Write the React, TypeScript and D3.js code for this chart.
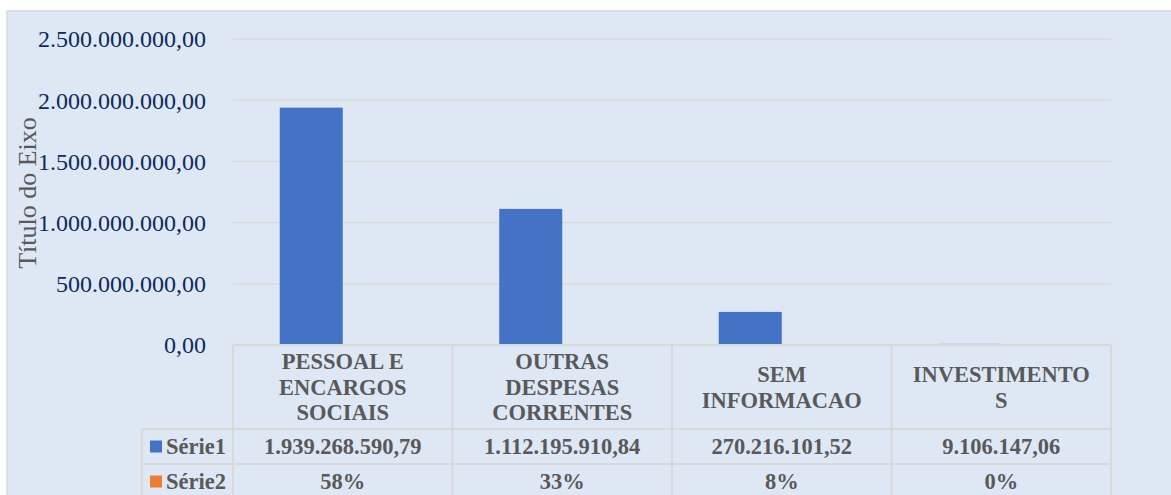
import React from "react";
import * as d3 from "d3";

const categories: string[][] = [
  ["PESSOAL E", "ENCARGOS", "SOCIAIS"],
  ["OUTRAS", "DESPESAS", "CORRENTES"],
  ["SEM", "INFORMACAO"],
  ["INVESTIMENTO", "S"],
];
const serie1: number[] = [1939268590.79, 1112195910.84, 270216101.52, 9106147.06];
const serie2: number[] = [0.58, 0.33, 0.08, 0.0];
const serie1Labels: string[] = ["1.939.268.590,79", "1.112.195.910,84", "270.216.101,52", "9.106.147,06"];
const serie2Labels: string[] = ["58%", "33%", "8%", "0%"];
const seriesNames: string[] = ["Série1", "Série2"];
const yTicks: number[] = [0, 500000000, 1000000000, 1500000000, 2000000000, 2500000000];
const axisTitle = "Título do Eixo";

const W = 1171;
const H = 495;
const plotLeft = 233;
const plotRight = 1111;
const plotTop = 39;
const plotBottom = 345;
const headerBottom = 429;
const row1Bottom = 464;
const row2Bottom = 499;
const legendLeft = 142;
const BLUE = "#4472c4";
const ORANGE = "#ed7d31";
const BG = "#dee8f4";
const GRID = "#d9d9d9";
const TEXT_GRAY = "#595959";
const NAVY = "#0d2a5c";
const FONT = "Liberation Serif, Times New Roman, DejaVu Serif, serif";

function fmtTick(v: number): string {
  const s = d3.format(",.2f")(v);
  return s.replace(/,/g, "#").replace(/\./g, ",").replace(/#/g, ".");
}

export default function App() {
  const y = d3.scaleLinear().domain([0, 2500000000]).range([plotBottom, plotTop]);
  const x0 = d3
    .scaleBand<number>()
    .domain(categories.map((_, i) => i))
    .range([plotLeft, plotRight])
    .paddingInner(0)
    .paddingOuter(0);
  const x1 = d3
    .scaleBand<number>()
    .domain([0, 1])
    .range([0, x0.bandwidth()])
    .paddingInner(0)
    .paddingOuter(0.742);
  const colEdges = categories.map((_, i) => x0(i)!).concat([plotRight]);
  const txt = { fontFamily: FONT } as React.CSSProperties;

  return (
    <svg
      width={W}
      height={H}
      style={{ position: "absolute", left: 0, top: 0, display: "block", fontFamily: FONT }}
    >
      <rect x={0} y={0} width={W} height={H} fill="#ffffff" />
      <rect x={7} y={11} width={W} height={H} fill={BG} stroke={GRID} strokeWidth={1.5} />
      {yTicks.slice(1).map((t) => (
        <line
          key={"g" + t}
          x1={plotLeft}
          x2={plotRight}
          y1={y(t)}
          y2={y(t)}
          stroke={GRID}
          strokeWidth={1.5}
        />
      ))}
      {yTicks.map((t) => (
        <text
          key={"t" + t}
          x={206}
          y={y(t)}
          dy="0.35em"
          textAnchor="end"
          style={txt}
          fontSize={24}
          fill={NAVY}
        >
          {fmtTick(t)}
        </text>
      ))}
      <text
        transform={`translate(36,193) rotate(-90)`}
        textAnchor="middle"
        style={txt}
        fontSize={26}
        fill={TEXT_GRAY}
      >
        {axisTitle}
      </text>
      {serie1.map((v, i) => (
        <rect
          key={"b1" + i}
          x={x0(i)! + x1(0)!}
          y={y(v)}
          width={x1.bandwidth()}
          height={plotBottom - y(v)}
          fill={BLUE}
        />
      ))}
      {serie2.map((v, i) => (
        <rect
          key={"b2" + i}
          x={x0(i)! + x1(1)!}
          y={y(v)}
          width={x1.bandwidth()}
          height={plotBottom - y(v)}
          fill={ORANGE}
        />
      ))}
      <g stroke={GRID} strokeWidth={2} fill="none">
        <line x1={plotLeft} x2={plotRight} y1={plotBottom} y2={plotBottom} />
        <line x1={legendLeft} x2={plotRight} y1={headerBottom} y2={headerBottom} />
        <line x1={legendLeft} x2={plotRight} y1={row1Bottom} y2={row1Bottom} />
        <line x1={legendLeft} x2={legendLeft} y1={headerBottom} y2={row2Bottom} />
        {colEdges.map((e, i) => (
          <line key={"v" + i} x1={e} x2={e} y1={plotBottom} y2={row2Bottom} />
        ))}
      </g>
      {categories.map((lines, i) => {
        const cx = x0(i)! + x0.bandwidth() / 2;
        const lh = 25.5;
        const mid = (plotBottom + headerBottom) / 2;
        const start = mid - ((lines.length - 1) * lh) / 2;
        return (
          <text
            key={"h" + i}
            textAnchor="middle"
            style={txt}
            fontSize={22.5}
            fontWeight="bold"
            fill={TEXT_GRAY}
          >
            {lines.map((l, j) => (
              <tspan key={j} x={cx} y={start + j * lh} dy="0.35em">
                {l}
              </tspan>
            ))}
          </text>
        );
      })}
      {[serie1Labels, serie2Labels].map((labels, r) => {
        const top = r === 0 ? headerBottom : row1Bottom;
        const bottom = r === 0 ? row1Bottom : row2Bottom;
        const cy = (top + bottom) / 2;
        return (
          <g key={"r" + r}>
            <rect x={150} y={cy - 6} width={12} height={12} fill={r === 0 ? BLUE : ORANGE} />
            <text
              x={166}
              y={cy}
              dy="0.35em"
              style={txt}
              fontSize={22.5}
              fontWeight="bold"
              fill={TEXT_GRAY}
            >
              {seriesNames[r]}
            </text>
            {labels.map((lab, i) => (
              <text
                key={i}
                x={x0(i)! + x0.bandwidth() / 2}
                y={cy}
                dy="0.35em"
                textAnchor="middle"
                style={txt}
                fontSize={22.5}
                fontWeight="bold"
                fill={TEXT_GRAY}
              >
                {lab}
              </text>
            ))}
          </g>
        );
      })}
    </svg>
  );
}
